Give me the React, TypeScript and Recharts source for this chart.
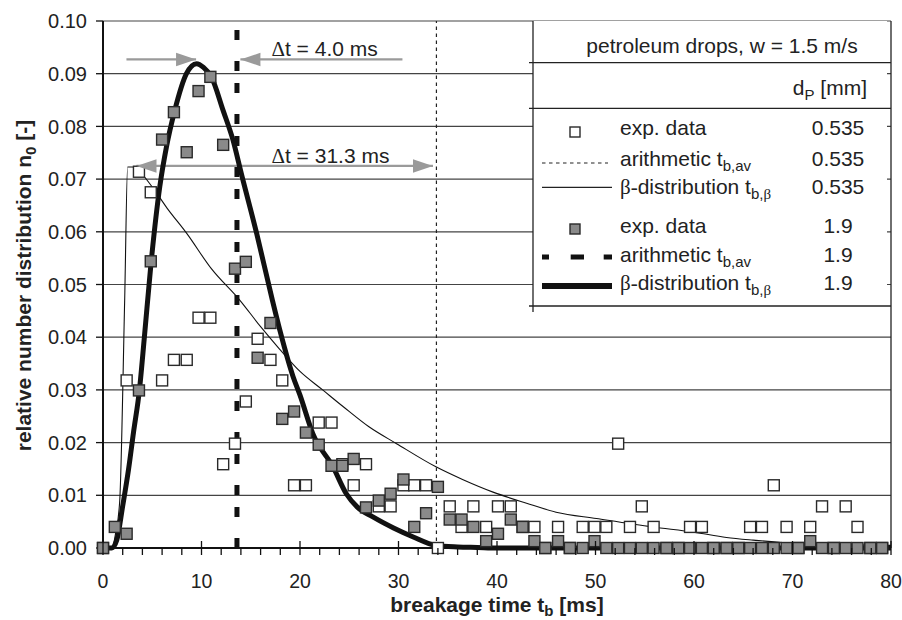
import React from 'react';
import {
  ComposedChart,
  Line,
  Scatter,
  XAxis,
  YAxis,
  CartesianGrid,
  ReferenceLine,
  ReferenceDot
} from 'recharts';

// time bins of the histogram [ms]
const binTimes = [
  0, 1.2, 2.4, 3.65, 4.85, 6.0, 7.2, 8.5, 9.7, 10.9,
  12.2, 13.4, 14.5, 15.7, 17.0, 18.2, 19.4, 20.6, 21.9, 23.2,
  24.3, 25.45, 26.7, 28.0, 29.2, 30.5, 31.6, 32.8, 34.0, 35.2,
  36.4, 37.6, 38.9, 40.1, 41.4, 42.6, 43.8, 44.9, 46.2, 47.4,
  48.7, 49.9, 51.1, 52.3, 53.5, 54.7, 55.9, 57.2, 58.4, 59.6,
  60.8, 62.0, 63.3, 64.5, 65.7, 66.9, 68.1, 69.4, 70.6, 71.8,
  73.0, 74.2, 75.4, 76.6, 77.9, 79.1
];

// exp. data, d_P = 0.535 mm (open squares)
const expSmall = [
  0, null, 0.0318, 0.0714, 0.0675, 0.0318, 0.0357, 0.0357, 0.0437, 0.0437,
  0.0159, 0.0198, 0.0278, 0.0397, 0.0357, 0.0318, 0.0119, 0.0119, 0.0238, 0.0238,
  0.0159, 0.0119, 0.0159, 0.0079, 0.0079, 0.0119, 0.0119, 0.0119, 0, 0.0079,
  0.004, 0.0079, 0.004, 0.0079, 0.0079, 0.004, 0.004, 0, 0.004, 0,
  0.004, 0.004, 0.004, 0.0198, 0.004, 0.0079, 0.004, 0, 0, 0.004,
  0.004, 0, 0, 0, 0.004, 0.004, 0.0119, 0.004, 0, 0.004,
  0.0079, 0, 0.0079, 0.004, 0, 0
];

// exp. data, d_P = 1.9 mm (grey squares)
const expLarge = [
  0, 0.004, 0.0027, 0.0299, 0.0544, 0.0775, 0.0827, 0.0751, 0.0867, 0.0894,
  0.0765, 0.053, 0.0543, 0.0361, 0.0427, 0.0245, 0.0259, 0.0219, 0.0196, 0.0156,
  0.0156, 0.0169, 0.0077, 0.009, 0.0103, 0.013, 0.004, 0.0066, 0.0116, 0.0054,
  0.0054, 0.004, 0.0013, 0.0027, 0.0054, 0.004, 0.0013, 0, 0.0013, 0,
  0, 0.0013, 0, 0, 0, 0, 0, 0, 0, 0,
  0, 0, 0, 0, 0, 0, 0, 0, 0, 0.0013,
  0, 0, 0, 0, 0, 0
];

// beta-distribution fit, 0.535 mm
const betaSmallT = [0, 0.9, 1.3, 1.7, 2.2, 2.5, 3.0, 3.5, 5.0, 6.5, 8.5, 11.0, 13.9, 16.0, 17.9, 20.0, 22.3, 24.4, 27.0, 29.8, 33.8, 36.5, 39.6, 43.0, 46.0, 50.1, 55.8, 60.0, 63.3, 66.0, 68.7, 72.0, 76.0, 80.0];
const betaSmallN = [0, 0, 0.003, 0.009, 0.047, 0.0723, 0.0723, 0.0718, 0.0685, 0.0645, 0.0597, 0.053, 0.047, 0.042, 0.0378, 0.0335, 0.030, 0.0268, 0.023, 0.0198, 0.0154, 0.013, 0.0106, 0.0085, 0.0068, 0.0056, 0.004, 0.003, 0.002, 0.0015, 0.0011, 0.0008, 0.0006, 0.0005];

// beta-distribution fit, 1.9 mm
const betaLargeT = [0, 0.9, 1.4, 2.0, 2.6, 3.1, 3.7, 4.2, 4.85, 5.76, 6.44, 7.28, 8.47, 9.5, 10.2, 11.0, 12.2, 13.2, 14.05, 15.6, 17.2, 18.0, 19.3, 20.0, 21.3, 23.35, 24.7, 25.8, 27.4, 29.5, 31.5, 33.8, 36.0, 38.0, 40.0, 80.0];
const betaLargeN = [0, 0, 0.0015, 0.008, 0.015, 0.022, 0.030, 0.040, 0.0535, 0.0685, 0.0761, 0.083, 0.090, 0.0919, 0.0912, 0.0894, 0.083, 0.0774, 0.071, 0.0597, 0.047, 0.041, 0.0325, 0.029, 0.0217, 0.0154, 0.0103, 0.0078, 0.0059, 0.0038, 0.0021, 0.0005, 0.0002, 0.0001, 0, 0];

// arithmetic mean breakage times
const meanSmall = 33.85;
const meanLarge = 13.6;

// delta-t annotations
const arrowLevels = [0.0927, 0.0725];
const arrowSegments = [
  { from: 2.38, to: 9.45, level: 0 },
  { from: 30.4, to: 13.95, level: 0 },
  { from: 3.4, to: 33.5, level: 1 }
];
const arrowTips = [
  { t: 9.45, level: 0, dir: 1 },
  { t: 13.95, level: 0, dir: -1 },
  { t: 3.4, level: 1, dir: -1 },
  { t: 33.5, level: 1, dir: 1 }
];
const deltaLabels = ['4.0', '31.3'];
const deltaLabelT = 17.1;

const xTicks = [0, 2, 4, 6, 8, 10, 12, 14, 16, 18, 20, 22, 24, 26, 28, 30, 32, 34, 36, 38, 40, 42, 44, 46, 48, 50, 52, 54, 56, 58, 60, 62, 64, 66, 68, 70, 72, 74, 76, 78, 80];
const yTicks = [0, 0.01, 0.02, 0.03, 0.04, 0.05, 0.06, 0.07, 0.08, 0.09, 0.1];

const toPoints = (ts: number[], ns: (number | null)[]) =>
  ts.map((t, i) => ({ t, n: ns[i] })).filter((p) => p.n !== null);

const openPoints = toPoints(binTimes, expSmall);
const greyPoints = toPoints(binTimes, expLarge);
const smallCurve = toPoints(betaSmallT, betaSmallN);
const largeCurve = toPoints(betaLargeT, betaLargeN);
const tipPoints = arrowTips.map((a) => ({ t: a.t, n: arrowLevels[a.level], dir: a.dir }));

const SERIF = '"Liberation Serif", "Times New Roman", serif';
const ARROW = '#9a9a9a';

const OpenSquare = (p: any) => (
  <rect x={p.cx - 5.5} y={p.cy - 5.5} width={11} height={11} fill="#fff" stroke="#2a2a2a" strokeWidth={1.4} />
);
const GreySquare = (p: any) => (
  <rect x={p.cx - 5.5} y={p.cy - 5.5} width={11} height={11} fill="#8a8a8a" stroke="#2a2a2a" strokeWidth={1.4} />
);
const ArrowHead = (p: any) => {
  const d = p.payload?.dir ?? 1;
  const bx = p.cx - d * 20;
  return <polygon points={`${p.cx},${p.cy} ${bx},${p.cy - 6.7} ${bx},${p.cy + 6.7}`} fill={ARROW} />;
};

const XTick = (p: any) => {
  const { x, y, payload } = p;
  const major = payload.value % 10 === 0;
  return (
    <g>
      <line x1={x} x2={x} y1={major ? y - 7 : y} y2={y + 7} stroke="#111" strokeWidth={1.3} />
      {major && (
        <text x={x} y={y + 39.5} textAnchor="middle" fontSize={19.5} fill="#222">
          {payload.value}
        </text>
      )}
    </g>
  );
};

const XTitle = (p: any) => {
  const vb = p.viewBox;
  return (
    <text x={vb.x + vb.width / 2} y={vb.y + 64} textAnchor="middle" fontSize={21} fontWeight="bold" fill="#222">
      breakage time t<tspan dy={4} fontSize={15}>b</tspan>
      <tspan dy={-4}> [ms]</tspan>
    </text>
  );
};

const YTitle = (p: any) => {
  const vb = p.viewBox;
  const cx = vb.x + 31;
  const cy = vb.y + vb.height / 2 + 1;
  return (
    <text x={cx} y={cy} transform={`rotate(-90, ${cx}, ${cy})`} textAnchor="middle" fontSize={21} fontWeight="bold" fill="#222">
      relative number distribution n<tspan dy={5} fontSize={15}>0</tspan>
      <tspan dy={-5}> [-]</tspan>
    </text>
  );
};

const DeltaText = (value: string) => (p: any) => (
  <text x={p.cx} y={p.cy - 3} fontSize={21} fill="#222">
    <tspan fontFamily={SERIF}>Δ</tspan>t = {value} ms
  </text>
);

const LegendBox = () => {
  const rows = [
    { y: 135, label: 'exp. data', sub: '', value: '0.535' },
    { y: 165.7, label: 'arithmetic t', sub: 'b,av', value: '0.535' },
    { y: 194.3, label: 'distribution t', sub: 'b,β', value: '0.535', beta: true },
    { y: 233.3, label: 'exp. data', sub: '', value: '1.9' },
    { y: 261.7, label: 'arithmetic t', sub: 'b,av', value: '1.9' },
    { y: 290, label: 'distribution t', sub: 'b,β', value: '1.9', beta: true }
  ];
  return (
    <svg width={902} height={620} style={{ position: 'absolute', left: 0, top: 0, pointerEvents: 'none' }}>
      <rect x={533} y={21} width={354} height={291} fill="#fff" />
      <line x1={533} x2={533} y1={21} y2={312} stroke="#222" strokeWidth={1.3} />
      <line x1={529} x2={891} y1={62.7} y2={62.7} stroke="#222" strokeWidth={1.3} />
      <line x1={529} x2={891} y1={108.3} y2={108.3} stroke="#222" strokeWidth={1.3} />
      <line x1={529} x2={891} y1={306} y2={306} stroke="#222" strokeWidth={1.3} />
      <g fontSize={21} fill="#222">
        <text x={722} y={53} textAnchor="middle">petroleum drops, w = 1.5 m/s</text>
        <text x={867} y={95} textAnchor="end">
          d<tspan dy={5} fontSize={15}>P</tspan>
          <tspan dy={-5}> [mm]</tspan>
        </text>
        {rows.map((r, i) => (
          <g key={i}>
            <text x={620} y={r.y}>
              {r.beta && <tspan fontFamily={SERIF}>β-</tspan>}
              {r.label}
              {r.sub && (
                <tspan dy={5} fontSize={15}>
                  {r.sub.replace('β', '')}
                  {r.sub.includes('β') && <tspan fontFamily={SERIF}>β</tspan>}
                </tspan>
              )}
            </text>
            <text x={838} y={r.y} textAnchor="middle">{r.value}</text>
          </g>
        ))}
      </g>
      <rect x={570} y={127} width={10} height={10} fill="#fff" stroke="#2a2a2a" strokeWidth={1.4} />
      <line x1={542} x2={608} y1={163} y2={163} stroke="#222" strokeWidth={1.2} strokeDasharray="3.5 3.5" />
      <line x1={542} x2={612} y1={187.3} y2={187.3} stroke="#222" strokeWidth={1.2} />
      <rect x={570} y={224} width={10} height={10} fill="#8a8a8a" stroke="#2a2a2a" strokeWidth={1.4} />
      <line x1={542} x2={612} y1={257} y2={257} stroke="#111" strokeWidth={5} strokeDasharray="7 21.7 13.3 19.7 9" />
      <line x1={542} x2={612} y1={286} y2={286} stroke="#111" strokeWidth={6} />
    </svg>
  );
};

export default function App() {
  return (
    <div
      style={{
        position: 'absolute',
        left: 0,
        top: 0,
        width: 902,
        height: 620,
        background: '#fff',
        fontFamily: '"Liberation Sans", Arial, sans-serif'
      }}
    >
      <ComposedChart width={902} height={620} margin={{ top: 21, right: 11, bottom: 12, left: 0 }}>
        <CartesianGrid vertical={false} stroke="#444" strokeWidth={1.2} />
        <XAxis
          dataKey="t"
          type="number"
          domain={[0, 80]}
          ticks={xTicks}
          interval={0}
          tickLine={false}
          tickSize={0}
          tickMargin={0}
          tick={<XTick />}
          axisLine={{ stroke: '#111', strokeWidth: 2 }}
          height={60}
          label={{ content: XTitle }}
        />
        <YAxis
          type="number"
          domain={[0, 0.1]}
          ticks={yTicks}
          interval={0}
          width={103}
          tickSize={7}
          tickMargin={9}
          tickFormatter={(v: number) => v.toFixed(2)}
          tick={{ fontSize: 20, fill: '#222' }}
          tickLine={{ stroke: '#111', strokeWidth: 1.3 }}
          axisLine={{ stroke: '#111', strokeWidth: 2 }}
          label={{ content: YTitle }}
        />
        <ReferenceLine x={80} stroke="#222" strokeWidth={1.3} />

        <ReferenceLine x={meanSmall} stroke="#222" strokeWidth={1.2} strokeDasharray="3.5 3.5" />
        <ReferenceLine x={meanLarge} stroke="#111" strokeWidth={5} strokeDasharray="10 21 10 12" />

        {arrowSegments.map((s, i) => (
          <ReferenceLine
            key={i}
            segment={[
              { x: s.from, y: arrowLevels[s.level] },
              { x: s.to, y: arrowLevels[s.level] }
            ]}
            stroke={ARROW}
            strokeWidth={2.2}
          />
        ))}

        <Line data={smallCurve} dataKey="n" type="monotone" stroke="#111" strokeWidth={1.1} dot={false} activeDot={false} isAnimationActive={false} />
        <Line data={largeCurve} dataKey="n" type="monotone" stroke="#111" strokeWidth={5} dot={false} activeDot={false} isAnimationActive={false} />

        <Scatter data={openPoints} dataKey="n" shape={OpenSquare} isAnimationActive={false} />
        <Scatter data={greyPoints} dataKey="n" shape={GreySquare} isAnimationActive={false} />
        <Scatter data={tipPoints} dataKey="n" shape={ArrowHead} isAnimationActive={false} />

        {deltaLabels.map((v, i) => (
          <ReferenceDot key={i} x={deltaLabelT} y={arrowLevels[i]} r={0} shape={DeltaText(v)} />
        ))}
      </ComposedChart>
      <LegendBox />
    </div>
  );
}
